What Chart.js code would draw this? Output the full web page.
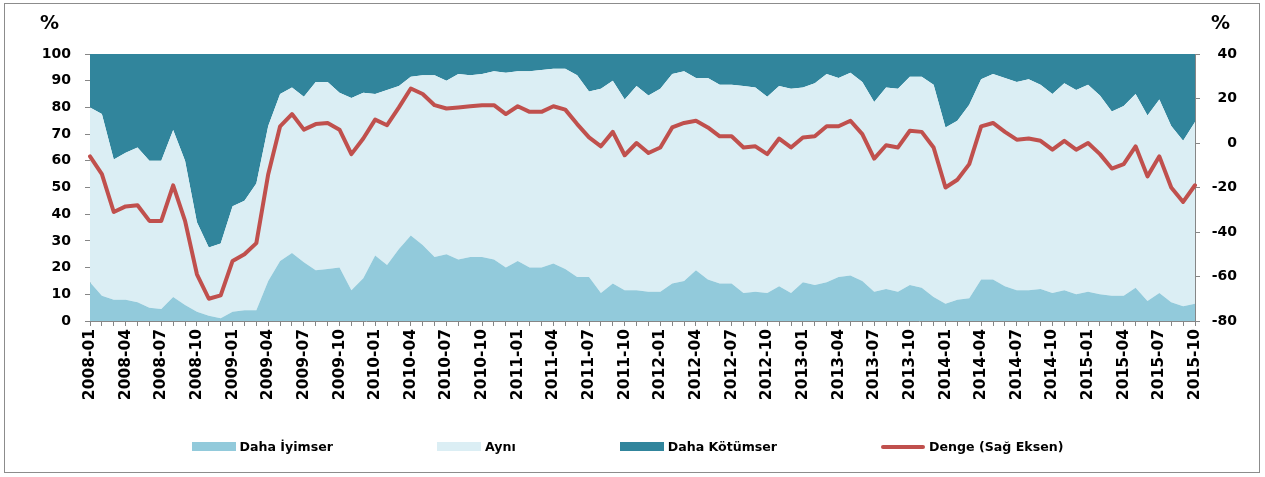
<!DOCTYPE html>
<html><head><meta charset="utf-8">
<script src="https://cdn.jsdelivr.net/npm/chart.js@4.4.0/dist/chart.umd.min.js"></script>
<style>
html,body{margin:0;padding:0;background:#fff;}
#wrap{position:relative;width:1265px;height:477px;overflow:hidden;}
#frame{position:absolute;left:4px;top:3px;width:1254px;height:468px;border:1px solid #8c8c8c;}
canvas{position:absolute;left:0;top:0;}
.pct{position:absolute;top:11px;font:bold 19px "DejaVu Sans",sans-serif;color:#000;}
#legend{position:absolute;left:-5px;width:1265px;top:439px;display:flex;justify-content:center;gap:104px;font:bold 12.6px "DejaVu Sans",sans-serif;color:#000;}
.item{display:flex;align-items:center;white-space:nowrap;}
.sw{width:44px;height:9px;margin-right:4px;}
.ln{width:44px;height:4px;border-radius:2px;margin-right:4px;}
</style></head>
<body>
<div id="wrap">
<div id="frame"></div>
<canvas id="c" width="1265" height="477"></canvas>
<div class="pct" style="left:40px;">%</div>
<div class="pct" style="left:1211px;">%</div>
<div id="legend"></div>
</div>
<script>
const categories = [
'2008-01','2008-02','2008-03','2008-04','2008-05','2008-06','2008-07','2008-08','2008-09','2008-10','2008-11','2008-12',
'2009-01','2009-02','2009-03','2009-04','2009-05','2009-06','2009-07','2009-08','2009-09','2009-10','2009-11','2009-12',
'2010-01','2010-02','2010-03','2010-04','2010-05','2010-06','2010-07','2010-08','2010-09','2010-10','2010-11','2010-12',
'2011-01','2011-02','2011-03','2011-04','2011-05','2011-06','2011-07','2011-08','2011-09','2011-10','2011-11','2011-12',
'2012-01','2012-02','2012-03','2012-04','2012-05','2012-06','2012-07','2012-08','2012-09','2012-10','2012-11','2012-12',
'2013-01','2013-02','2013-03','2013-04','2013-05','2013-06','2013-07','2013-08','2013-09','2013-10','2013-11','2013-12',
'2014-01','2014-02','2014-03','2014-04','2014-05','2014-06','2014-07','2014-08','2014-09','2014-10','2014-11','2014-12',
'2015-01','2015-02','2015-03','2015-04','2015-05','2015-06','2015-07','2015-08','2015-09','2015-10'];

const dahaIyimser = [
14.5,9.5,8,8,7,5,4.5,9,6,3.5,2,1,
3.5,4,4,15,22.5,25.5,22,19,19.5,20,11.5,16,
24.5,21,27,32,28.5,24,25,23,24,24,23,20,
22.5,20,20,21.5,19.5,16.5,16.5,10.5,14,11.5,11.5,11,
11,14,15,19,15.5,14,14,10.5,11,10.5,13,10.5,
14.5,13.5,14.5,16.5,17,15,11,12,11,13.5,12.5,9,
6.5,8,8.5,15.5,15.5,13,11.5,11.5,12,10.5,11.5,10,
11,10,9.5,9.5,12.5,7.5,10.5,7,5.5,6.5];

const ayni = [
65.5,68,52.5,55,58,55,55.5,62.5,54,33.5,25.5,28,
39.5,41,47.5,58,62.5,62,62,70.5,70,65.5,72,69.5,
60.5,65.5,61,59.5,63.5,68,65,69.5,68,68.5,70.5,73,
71,73.5,74,73,75,75.5,69.5,76.5,76,71.5,76.5,73.5,
76,78.5,78.5,72,75.5,74.5,74.5,77.5,76.5,73.5,75,76.5,
73,75.5,78,74.5,76,74.5,71,75.5,76,78,79,79.5,
66,67,72.5,75,77,78,78,79,76.5,74.5,77.5,76.5,
77.5,74.5,69,71,72.5,69.5,72.5,66,62,68];

const dahaKotumser = [
20,22.5,39.5,37,35,40,40,28.5,40,63,72.5,71,
57,55,48.5,27,15,12.5,16,10.5,10.5,14.5,16.5,14.5,
15,13.5,12,8.5,8,8,10,7.5,8,7.5,6.5,7,
6.5,6.5,6,5.5,5.5,8,14,13,10,17,12,15.5,
13,7.5,6.5,9,9,11.5,11.5,12,12.5,16,12,13,
12.5,11,7.5,9,7,10.5,18,12.5,13,8.5,8.5,11.5,
27.5,25,19,9.5,7.5,9,10.5,9.5,11.5,15,11,13.5,
11.5,15.5,21.5,19.5,15,23,17,27,32.5,25.5];

const denge = [
-6,-14,-31,-28.5,-28,-35,-35,-19,-35,-59,-70,-68.5,
-53,-50,-45,-14,7.5,13,6,8.5,9,6,-5,2,
10.5,8,16,24.5,22,17,15.5,16,16.5,17,17,13,
16.5,14,14,16.5,15,8.5,2.5,-1.5,5,-5.5,0,-4.5,
-2,7,9,10,7,3,3,-2,-1.5,-5,2,-2,
2.5,3,7.5,7.5,10,4,-7,-1,-2,5.5,5,-2,
-20,-16.5,-9.5,7.5,9,5,1.5,2,1,-3,1,-3,
0,-5,-11.5,-9.5,-1.5,-15,-6,-20,-26.5,-19];

const leftTicks = {min:0, max:100, step:10};
const rightTicks = {min:-80, max:40, step:20};

const colIyimser = '#92CADB';
const colAyni = '#DBEEF4';
const colKotumser = '#31859C';
const colDenge = '#C0504D';
const axisCol = '#868686';
const tickFont = {family:'"DejaVu Sans", sans-serif', size:14, weight:'bold'};
const xTickFont = {family:'"DejaVu Sans", sans-serif', size:15.5, weight:'bold'};

const chart = new Chart(document.getElementById('c'), {
  type:'line',
  data:{
    labels:categories,
    datasets:[
      {label:'Daha İyimser', data:dahaIyimser, backgroundColor:colIyimser, borderWidth:0, pointRadius:0, fill:'origin', yAxisID:'y', stack:'s', order:1},
      {label:'Aynı', data:ayni, backgroundColor:colAyni, borderWidth:0, pointRadius:0, fill:'-1', yAxisID:'y', stack:'s', order:1},
      {label:'Daha Kötümser', data:dahaKotumser, backgroundColor:colKotumser, borderWidth:0, pointRadius:0, fill:'-1', yAxisID:'y', stack:'s', order:1},
      {label:'Denge (Sağ Eksen)', data:denge, borderColor:colDenge, backgroundColor:colDenge, borderWidth:4, pointRadius:0, fill:false, yAxisID:'y1', stack:'d', order:0, tension:0, borderJoinStyle:'round', borderCapStyle:'round'}
    ]
  },
  options:{
    responsive:false, animation:false, devicePixelRatio:1,
    layout:{padding:{left:0, right:28, top:54, bottom:56}},
    plugins:{legend:{display:false}, tooltip:{enabled:false}},
    scales:{
      x:{
        offset:false,
        grid:{drawOnChartArea:false, tickLength:5, color:axisCol},
        border:{color:axisCol, width:1},
        ticks:{autoSkip:false, maxRotation:90, minRotation:90, color:'#000', font:xTickFont, padding:3,
          callback:(v,i)=> (i%3===0 ? categories[i] : '')},
        afterFit:(s)=>{ s.height = 100; }
      },
      y:{
        stacked:true, min:leftTicks.min, max:leftTicks.max,
        grid:{drawOnChartArea:false, tickLength:5, color:axisCol},
        border:{color:axisCol, width:1},
        ticks:{stepSize:leftTicks.step, color:'#000', font:tickFont, padding:14},
        afterFit:(s)=>{ s.width = 90; }
      },
      y1:{
        position:'right', min:rightTicks.min, max:rightTicks.max,
        grid:{drawOnChartArea:false, tickLength:5, color:axisCol},
        border:{color:axisCol, width:1},
        ticks:{stepSize:rightTicks.step, color:'#000', font:tickFont, crossAlign:'far'},
        afterFit:(s)=>{ s.width = 42; }
      }
    }
  }
});

const lg = document.getElementById('legend');
chart.data.datasets.forEach(ds => {
  const it = document.createElement('div'); it.className='item';
  const sw = document.createElement('div');
  if (ds.yAxisID === 'y1') { sw.className='ln'; sw.style.background = ds.borderColor; }
  else { sw.className='sw'; sw.style.background = ds.backgroundColor; }
  const tx = document.createElement('span'); tx.textContent = ds.label;
  it.appendChild(sw); it.appendChild(tx); lg.appendChild(it);
});
</script>
</body></html>
